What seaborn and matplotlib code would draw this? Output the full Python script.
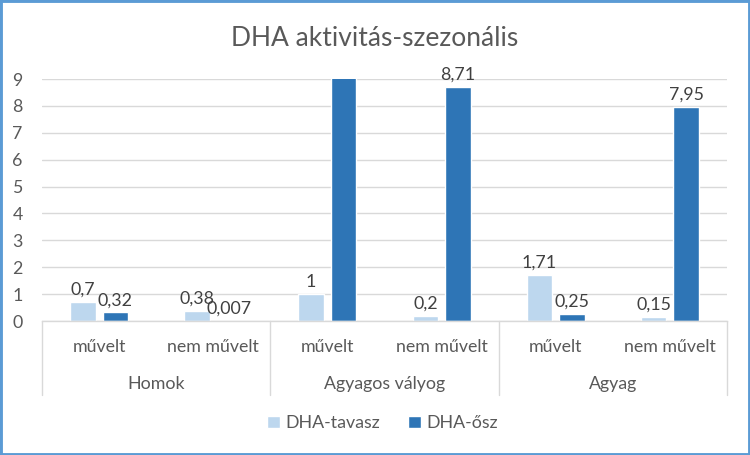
import matplotlib
matplotlib.use("Agg")
import matplotlib.pyplot as plt
import matplotlib.patches as mpatches
import matplotlib.transforms as mtrans
import seaborn as sns
import pandas as pd

groups = ["Homok", "Agyagos vályog", "Agyag"]
subcats = ["művelt", "nem művelt"]
series = ["DHA-tavasz", "DHA-ősz"]
tavasz = [0.7, 0.38, 1.0, 0.2, 1.71, 0.15]
osz = [0.32, 0.007, 9.9, 8.71, 0.25, 7.95]
yticks = list(range(0, 10))

colors = ["#BDD7EE", "#2E75B6"]
text_color = "#595959"

sns.set_theme(style="white")
plt.rcParams["font.family"] = ["Lato", "DejaVu Sans"]

cats = [f"{g}|{s}" for g in groups for s in subcats]
rows = []
for i, c in enumerate(cats):
    rows.append({"cat": c, "series": series[0], "value": tavasz[i]})
    rows.append({"cat": c, "series": series[1], "value": osz[i]})
df = pd.DataFrame(rows)

fig = plt.figure(figsize=(7.5, 4.55), dpi=100)
ax = fig.add_axes([42 / 750, 1 - 321 / 455, (727 - 42) / 750, (321 - 79) / 455])

sns.barplot(data=df, x="cat", y="value", hue="series", order=cats,
            hue_order=series, palette=colors, width=0.57, gap=0.215,
            saturation=1, ax=ax, legend=False, errorbar=None)

ax.set_ylim(0, 9)
ax.set_xlim(-0.5, len(cats) - 0.5)
ax.set_yticks(yticks)
ax.set_yticklabels([str(t) for t in yticks], fontsize=12.8, color=text_color)
ax.tick_params(axis="y", length=0, pad=14)
ax.set_xticks([])
ax.set_xlabel("")
ax.set_ylabel("")
ax.grid(axis="y", color="#D9D9D9", linewidth=1)
ax.set_axisbelow(True)
for sp in ["top", "right", "left"]:
    ax.spines[sp].set_visible(False)
ax.spines["bottom"].set_color("#D9D9D9")
ax.spines["bottom"].set_linewidth(1)

def fmt(v):
    return f"{v:g}".replace(".", ",")

for cont, vals in zip(ax.containers, [tavasz, osz]):
    labels = [fmt(v) if v <= 9 else "" for v in vals]
    ax.bar_label(cont, labels=labels, padding=3, fontsize=12.8, color="#404040")

# two-level category axis
trans = mtrans.blended_transform_factory(ax.transData, fig.transFigure)
for i, c in enumerate(cats):
    ax.text(i, 1 - 347 / 455, c.split("|")[1], transform=trans, ha="center",
            va="center", fontsize=12.8, color=text_color)
for gi, g in enumerate(groups):
    ax.text(gi * 2 + 0.5, 1 - 384 / 455, g, transform=trans, ha="center",
            va="center", fontsize=12.8, color=text_color)
for b in range(len(groups) + 1):
    x = b * 2 - 0.5
    ax.add_line(plt.Line2D([x, x], [1 - 321 / 455, 1 - 395 / 455], transform=trans,
                           color="#D9D9D9", linewidth=1, clip_on=False))

fig.text(0.5, 1 - 38 / 455, "DHA aktivitás-szezonális", ha="center", va="center",
         fontsize=19, color=text_color)

handles = [mpatches.Patch(facecolor=colors[i], label=series[i]) for i in range(2)]
leg = fig.legend(handles=handles, loc="center", bbox_to_anchor=(0.51, 1 - 423 / 455),
                 ncol=2, frameon=False, fontsize=12.8, handlelength=0.7,
                 handleheight=0.7, handletextpad=0.3, columnspacing=1.6)
for t in leg.get_texts():
    t.set_color(text_color)

fig.patches.append(mpatches.Rectangle((0, 0), 1, 1, transform=fig.transFigure,
                                      fill=False, edgecolor="#5B9BD5", linewidth=3.5))

fig.savefig("out.png", dpi=100)
